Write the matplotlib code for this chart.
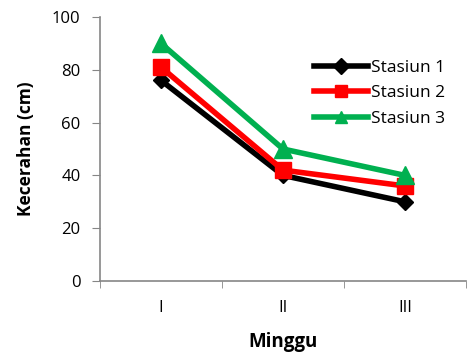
import matplotlib
matplotlib.use("Agg")
import matplotlib.pyplot as plt

categories = ["I", "II", "III"]
stasiun1 = [76, 40, 30]
stasiun2 = [81, 42, 36]
stasiun3 = [90, 50, 40]
series_names = ["Stasiun 1", "Stasiun 2", "Stasiun 3"]

plt.rcParams['font.family'] = ['Open Sans', 'DejaVu Sans']

fig = plt.figure(figsize=(4.67, 3.59), dpi=100)
W, H = 467, 359
ax = fig.add_axes([100/W, 1-281/H, (466-100)/W, (281-17)/H])

x = list(range(len(categories)))
ax.plot(x, stasiun1, color='black', lw=4, marker='D', ms=8, label=series_names[0], zorder=3)
ax.plot(x, stasiun2, color='#ff0000', lw=4, marker='s', ms=12, label=series_names[1], zorder=4)
ax.plot(x, stasiun3, color='#00b050', lw=4, marker='^', ms=13, label=series_names[2], zorder=5)

ax.set_xlim(-0.5, 2.5)
ax.set_ylim(0, 100)
ax.set_yticks([0, 20, 40, 60, 80, 100])
ax.set_xticks(x)
ax.set_xticklabels(categories)
ax.set_xticks([-0.5, 0.5, 1.5, 2.5], minor=True)
ax.tick_params(axis='x', which='major', length=0, pad=14, labelsize=12)
ax.tick_params(axis='x', which='minor', length=5, color='#868686', direction='out')
ax.tick_params(axis='y', length=6, color='#868686', labelsize=12, pad=8)
for s in ['top', 'right']:
    ax.spines[s].set_visible(False)
for s in ['left', 'bottom']:
    ax.spines[s].set_color('#868686')
    ax.spines[s].set_linewidth(1.2)

ax.set_xlabel("Minggu", fontsize=13.5, fontweight='bold', labelpad=11)
ax.set_ylabel("Kecerahan (cm)", fontsize=12.5, fontweight='bold', labelpad=12)

leg = ax.legend(loc='upper left', bbox_to_anchor=(0.565, 0.865), frameon=False,
                fontsize=12.5, handlelength=3.1, handletextpad=0.2, labelspacing=0.55,
                borderaxespad=0)
for h in leg.legend_handles:
    h.set_markersize(8)

fig.savefig("out.png", dpi=100)
